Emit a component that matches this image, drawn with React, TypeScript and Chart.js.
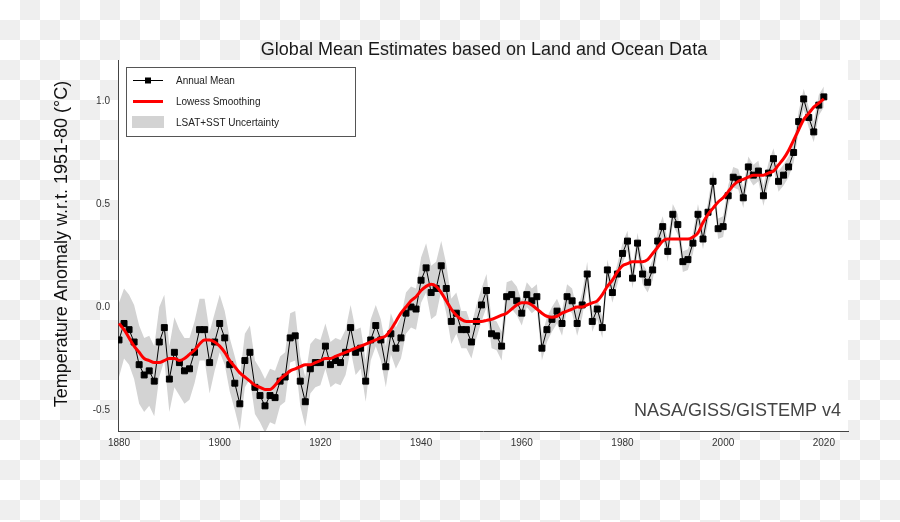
import { useEffect, useRef } from "react";
import { Chart, registerables } from "chart.js";

Chart.register(...registerables);

const FIRST_YEAR = 1880;

const annualMean = [
  -0.16, -0.08, -0.11, -0.17, -0.28, -0.33, -0.31, -0.36, -0.17, -0.10,
  -0.35, -0.22, -0.27, -0.31, -0.30, -0.22, -0.11, -0.11, -0.27, -0.17,
  -0.08, -0.15, -0.28, -0.37, -0.47, -0.26, -0.22, -0.39, -0.43, -0.48,
  -0.43, -0.44, -0.36, -0.34, -0.15, -0.14, -0.36, -0.46, -0.30, -0.27,
  -0.27, -0.19, -0.28, -0.26, -0.27, -0.22, -0.10, -0.22, -0.20, -0.36,
  -0.16, -0.09, -0.16, -0.29, -0.13, -0.20, -0.15, -0.03, 0.00, -0.01,
  0.13, 0.19, 0.07, 0.09, 0.20, 0.09, -0.07, -0.03, -0.11, -0.11,
  -0.17, -0.07, 0.01, 0.08, -0.13, -0.14, -0.19, 0.05, 0.06, 0.03,
  -0.03, 0.06, 0.03, 0.05, -0.20, -0.11, -0.06, -0.02, -0.08, 0.05,
  0.03, -0.08, 0.01, 0.16, -0.07, -0.01, -0.10, 0.18, 0.07, 0.16,
  0.26, 0.32, 0.14, 0.31, 0.16, 0.12, 0.18, 0.32, 0.39, 0.27,
  0.45, 0.40, 0.22, 0.23, 0.31, 0.45, 0.33, 0.46, 0.61, 0.38,
  0.39, 0.54, 0.63, 0.62, 0.53, 0.68, 0.64, 0.66, 0.54, 0.65,
  0.72, 0.61, 0.64, 0.68, 0.75, 0.90, 1.01, 0.92, 0.85, 0.98,
  1.02,
];

const lowessSmoothing = [
  -0.08, -0.11, -0.15, -0.19, -0.22, -0.25, -0.26, -0.27, -0.27, -0.26,
  -0.25, -0.25, -0.26, -0.25, -0.23, -0.21, -0.18, -0.16, -0.16, -0.17,
  -0.19, -0.22, -0.26, -0.29, -0.32, -0.34, -0.36, -0.38, -0.39, -0.40,
  -0.40, -0.38, -0.35, -0.33, -0.31, -0.30, -0.29, -0.28, -0.28, -0.27,
  -0.26, -0.25, -0.25, -0.24, -0.23, -0.22, -0.21, -0.20, -0.19, -0.18,
  -0.17, -0.16, -0.15, -0.14, -0.11, -0.07, -0.03, 0.00, 0.03, 0.05,
  0.08, 0.10, 0.11, 0.10, 0.07, 0.03, -0.01, -0.04, -0.06, -0.07,
  -0.07, -0.07, -0.07, -0.065, -0.06, -0.05, -0.04, -0.03, -0.01, 0.01,
  0.02, 0.02, 0.01, -0.01, -0.03, -0.045, -0.05, -0.045, -0.03, -0.02,
  -0.01, 0.00, 0.00, 0.01, 0.02, 0.03, 0.06, 0.10, 0.13, 0.17,
  0.20, 0.21, 0.22, 0.22, 0.22, 0.23, 0.26, 0.29, 0.32, 0.33,
  0.33, 0.33, 0.33, 0.33, 0.34, 0.36, 0.41, 0.45, 0.48, 0.51,
  0.53, 0.56, 0.59, 0.61, 0.62, 0.63, 0.64, 0.64, 0.64, 0.65,
  0.66, 0.69, 0.72, 0.76, 0.81, 0.86, 0.91, 0.94, 0.97, 0.99,
  1.01,
];

// half-width of the LSAT+SST uncertainty band (°C)
const uncertainty = [
  0.18, 0.17, 0.17, 0.18, 0.19, 0.18, 0.17, 0.17, 0.17, 0.16,
  0.16, 0.17, 0.16, 0.16, 0.15, 0.15, 0.15, 0.15, 0.15, 0.14,
  0.14, 0.13, 0.13, 0.13, 0.13, 0.13, 0.13, 0.13, 0.13, 0.13,
  0.13, 0.13, 0.12, 0.12, 0.12, 0.12, 0.12, 0.12, 0.12, 0.12,
  0.11, 0.11, 0.11, 0.11, 0.11, 0.11, 0.11, 0.11, 0.10, 0.10,
  0.10, 0.10, 0.10, 0.10, 0.10, 0.10, 0.10, 0.10, 0.10, 0.10,
  0.11, 0.12, 0.13, 0.13, 0.12, 0.12, 0.11, 0.10, 0.09, 0.09,
  0.08, 0.08, 0.08, 0.08, 0.07, 0.07, 0.07, 0.07, 0.07, 0.07,
  0.06, 0.06, 0.06, 0.06, 0.06, 0.06, 0.06, 0.06, 0.06, 0.06,
  0.06, 0.06, 0.06, 0.06, 0.05, 0.05, 0.05, 0.05, 0.05, 0.05,
  0.05, 0.05, 0.05, 0.05, 0.05, 0.05, 0.05, 0.05, 0.05, 0.05,
  0.05, 0.05, 0.05, 0.05, 0.05, 0.05, 0.05, 0.05, 0.05, 0.05,
  0.05, 0.05, 0.05, 0.05, 0.05, 0.05, 0.05, 0.05, 0.05, 0.05,
  0.05, 0.05, 0.05, 0.05, 0.05, 0.05, 0.05, 0.05, 0.05, 0.05,
  0.05,
];

const xTicks = [1880, 1900, 1920, 1940, 1960, 1980, 2000, 2020];
const yTicks = [-0.5, 0.0, 0.5, 1.0];

const TITLE = "Global Mean Estimates based on Land and Ocean Data";
const Y_LABEL = "Temperature Anomaly w.r.t. 1951-80 (°C)";
const SOURCE = "NASA/GISS/GISTEMP v4";
const LEGEND_ITEMS = ["Annual Mean", "Lowess Smoothing", "LSAT+SST Uncertainty"];

const FONT = "'Liberation Sans', Arial, Helvetica, sans-serif";

const pts = (vals: number[]) => vals.map((v, i) => ({ x: FIRST_YEAR + i, y: v }));

const panelPlugin = {
  id: "panel",
  beforeDraw(chart: any) {
    const { ctx, chartArea } = chart;
    ctx.save();
    ctx.fillStyle = "#ffffff";
    ctx.fillRect(chartArea.left, chartArea.top, chartArea.right - chartArea.left, chartArea.bottom - chartArea.top);
    ctx.restore();
  },
  afterDraw(chart: any) {
    const { ctx } = chart;
    ctx.save();
    // title
    ctx.fillStyle = "#1a1a1a";
    ctx.font = `18px ${FONT}`;
    ctx.textAlign = "center";
    ctx.textBaseline = "alphabetic";
    ctx.fillText(TITLE, 484, 55);
    // y label
    ctx.save();
    ctx.translate(67, 244);
    ctx.rotate(-Math.PI / 2);
    ctx.fillStyle = "#111111";
    ctx.fillText(Y_LABEL, 0, 0);
    ctx.restore();
    // source
    ctx.fillStyle = "#444444";
    ctx.textAlign = "right";
    ctx.fillText(SOURCE, 841, 416);

    // legend
    ctx.strokeStyle = "#555555";
    ctx.lineWidth = 1;
    ctx.fillStyle = "#ffffff";
    ctx.fillRect(126.5, 67.5, 229, 69);
    ctx.strokeRect(126.5, 67.5, 229, 69);
    // annual mean
    ctx.strokeStyle = "#000000";
    ctx.beginPath();
    ctx.moveTo(133, 80.5);
    ctx.lineTo(163, 80.5);
    ctx.stroke();
    ctx.fillStyle = "#000000";
    ctx.fillRect(145, 77.5, 6, 6);
    // lowess
    ctx.strokeStyle = "#ff0000";
    ctx.lineWidth = 3;
    ctx.beginPath();
    ctx.moveTo(133, 101.5);
    ctx.lineTo(163, 101.5);
    ctx.stroke();
    // uncertainty
    ctx.fillStyle = "#d3d3d3";
    ctx.fillRect(132, 116, 32, 12);
    // texts
    ctx.fillStyle = "#222222";
    ctx.font = `10px ${FONT}`;
    ctx.textAlign = "left";
    ctx.textBaseline = "middle";
    ctx.fillText(LEGEND_ITEMS[0], 176, 81.5);
    ctx.fillText(LEGEND_ITEMS[1], 176, 102.5);
    ctx.fillText(LEGEND_ITEMS[2], 176, 123.5);
    ctx.restore();
  },
};

export default function App() {
  const ref = useRef<HTMLCanvasElement>(null);

  useEffect(() => {
    document.body.style.margin = "0";
    const upper = annualMean.map((v, i) => v + uncertainty[i]);
    const lower = annualMean.map((v, i) => v - uncertainty[i]);
    const chart = new Chart(ref.current as HTMLCanvasElement, {
      type: "line",
      data: {
        datasets: [
          {
            label: "Lowess Smoothing",
            data: pts(lowessSmoothing),
            borderColor: "#ff0000",
            borderWidth: 3,
            pointRadius: 0,
            cubicInterpolationMode: "monotone",
            fill: false,
          },
          {
            label: "Annual Mean",
            data: pts(annualMean),
            borderColor: "#000000",
            borderWidth: 1,
            pointStyle: "rect",
            pointRadius: 4.2,
            pointBorderWidth: 1,
            pointBackgroundColor: "#000000",
            pointBorderColor: "#000000",
            tension: 0,
            fill: false,
          },
          {
            label: "upper",
            data: pts(upper),
            borderWidth: 0,
            borderColor: "rgba(0,0,0,0)",
            pointRadius: 0,
            backgroundColor: "#d3d3d3",
            fill: "+1",
          },
          {
            label: "lower",
            data: pts(lower),
            borderWidth: 0,
            borderColor: "rgba(0,0,0,0)",
            pointRadius: 0,
            fill: false,
          },
        ],
      } as any,
      options: {
        responsive: false,
        animation: false,
        layout: { padding: { left: 0, top: 60, right: 52, bottom: 0 } },
        plugins: {
          legend: { display: false },
          tooltip: { enabled: false },
          title: { display: false },
        },
        scales: {
          x: {
            type: "linear",
            min: 1879.8,
            max: 2024.8,
            grid: { display: false, drawTicks: false },
            border: { display: true, color: "#444444", width: 1 },
            ticks: {
              padding: 6,
              color: "#333333",
              font: { family: FONT, size: 10 },
              callback: (v: any) => String(v),
              maxRotation: 0,
            },
            afterBuildTicks: (s: any) => {
              s.ticks = xTicks.map((v) => ({ value: v }));
            },
            afterFit: (s: any) => {
              s.height = 91;
            },
          },
          y: {
            type: "linear",
            min: -0.602,
            max: 1.199,
            grid: { display: false, drawTicks: false },
            border: { display: true, color: "#444444", width: 1 },
            ticks: {
              padding: 8,
              color: "#333333",
              font: { family: FONT, size: 10 },
              callback: (v: any) => Number(v).toFixed(1),
            },
            afterBuildTicks: (s: any) => {
              s.ticks = yTicks.map((v) => ({ value: v }));
            },
            afterFit: (s: any) => {
              s.width = 118;
            },
          },
        },
      } as any,
      plugins: [panelPlugin],
    });
    return () => chart.destroy();
  }, []);

  return (
    <div
      style={{
        position: "relative",
        width: 900,
        height: 522,
        background: "repeating-conic-gradient(#efefef 0% 25%, #ffffff 0% 50%) 0 0 / 40px 40px",
      }}
    >
      <canvas ref={ref} width={900} height={522} style={{ display: "block" }} />
    </div>
  );
}
